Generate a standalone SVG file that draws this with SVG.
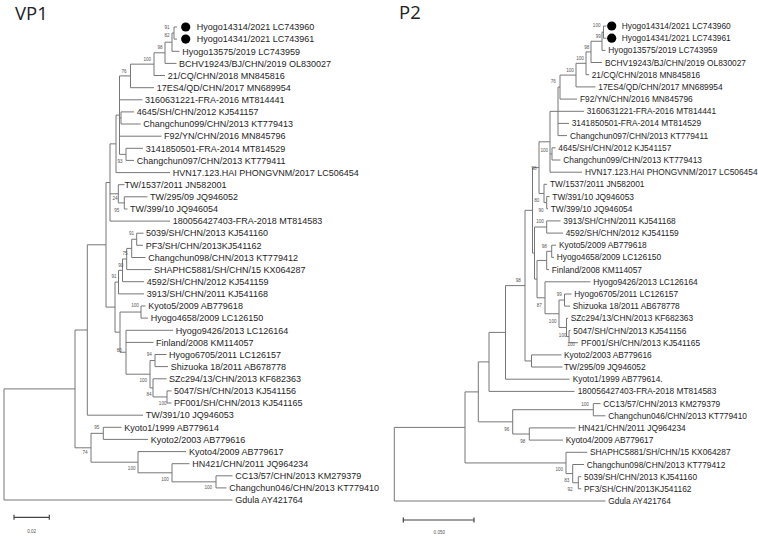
<svg xmlns="http://www.w3.org/2000/svg" width="758" height="541" viewBox="0 0 758 541">
<style>
.br{fill:none;stroke:#777;stroke-width:1}
.sb{fill:none;stroke:#444;stroke-width:1.2}
.lf{font-family:"Liberation Sans",Arial,sans-serif;font-size:9px;fill:#1e1e1e}
.lf2{font-family:"Liberation Sans",Arial,sans-serif;font-size:8.35px;fill:#1e1e1e}
.bs{font-family:"Liberation Sans",Arial,sans-serif;font-size:4.6px;fill:#555;text-anchor:middle}
.ttl{font-family:"Open Sans","Liberation Sans",sans-serif;font-size:18.5px;fill:#222}
.dot{fill:#000}
</style>
<rect width="758" height="541" fill="#fff"/>
<text class="ttl" x="15" y="20">VP1</text>
<text class="ttl" x="399" y="18.5">P2</text>

<g id="connectors">
<g id="vp1-branches" class="br">
<path d="M174,27V39.1M174,27H177M174,39.1H177"/>
<path d="M172,33.05V51.3M172,33.05H174M172,51.3H179.5"/>
<path d="M165,42.2V63.4M165,42.2H172M165,63.4H176.5"/>
<path d="M154,52.8V75.5M154,52.8H165M154,75.5H165"/>
<path d="M130.5,64.15V87.7M130.5,64.15H154M130.5,87.7H154"/>
<path d="M119.5,75.9V154.35M119.5,75.9H130.5M119.5,99.8H142.5M119.5,117.95H121M119.5,136.2H161.5M119.5,154.35H126"/>
<path d="M121,111.9V124M121,111.9H134M121,124H140.5"/>
<path d="M126,148.3V160.4M126,148.3H143M126,160.4H134"/>
<path d="M116,115.1V172.6M116,115.1H119.5M116,172.6H170"/>
<path d="M124.3,196.8V209M124.3,196.8H147.5M124.3,209H127.5"/>
<path d="M118.3,184.7V202.9M118.3,184.7H124.5M118.3,202.9H124.3"/>
<path d="M110,143.85V221.1M110,143.85H116M110,193.8H118.3M110,221.1H170"/>
<path d="M136.7,233.2V245.3M136.7,233.2H143.5M136.7,245.3H143"/>
<path d="M131.7,239.25V257.5M131.7,239.25H136.7M131.7,257.5H145.5"/>
<path d="M126.7,248.4V269.6M126.7,248.4H131.7M126.7,269.6H151.5"/>
<path d="M122.5,259V281.7M122.5,259H126.7M122.5,281.7H144"/>
<path d="M118.5,270.35V293.9M118.5,270.35H122.5M118.5,293.9H144"/>
<path d="M141,306V318.1M141,306H145.5M141,318.1H148"/>
<path d="M155,354.5V366.6M155,354.5H166.5M155,366.6H168"/>
<path d="M167,390.9V403M167,390.9H171.5M167,403H171.5"/>
<path d="M153,378.8V396.95M153,378.8H166.5M153,396.95H167"/>
<path d="M150,360.55V387.9M150,360.55H155M150,387.9H153"/>
<path d="M126,330.3V374.2M126,330.3H173M126,342.4H153.5M126,374.2H150"/>
<path d="M120,312.05V352.25M120,312.05H141M120,352.25H126"/>
<path d="M115,282.1V332.15M115,282.1H118.5M115,332.15H120"/>
<path d="M106,182.5V307.1M106,182.5H110M106,307.1H115"/>
<path d="M87.3,244.8V415.2M87.3,244.8H106M87.3,415.2H143"/>
<path d="M103.3,427.3V439.4M103.3,427.3H121.5M103.3,439.4H148"/>
<path d="M216,475.8V487.9M216,475.8H232.5M216,487.9H226.5"/>
<path d="M172,463.7V481.85M172,463.7H189.5M172,481.85H216"/>
<path d="M138,451.6V472.8M138,451.6H186M138,472.8H172"/>
<path d="M91,433.35V462.2M91,433.35H103.3M91,462.2H138"/>
<path d="M75,330V447.8M75,330H87.3M75,447.8H91"/>
<path d="M4,388.9V500M4,388.9H75M4,500H232.5"/>
</g>
<g id="p2-branches" class="br">
<path d="M603.5,26V38.2M603.5,26H606.5M603.5,38.2H606.5"/>
<path d="M602,32.1V50.4M602,32.1H603.5M602,50.4H605.5"/>
<path d="M591,41.25V62.5M591,41.25H602M591,62.5H602"/>
<path d="M586,51.9V74.7M586,51.9H591M586,74.7H589"/>
<path d="M576,63.3V86.9M576,63.3H586M576,86.9H595.5"/>
<path d="M560,75.1V99.1M560,75.1H576M560,99.1H577"/>
<path d="M558,87.1V135.6M558,87.1H560M558,111.3H584M558,123.4H569M558,135.6H567"/>
<path d="M552,147.8V160M552,147.8H555.5M552,160H560.5"/>
<path d="M550,111.35V172.2M550,111.35H558M550,153.9H552M550,172.2H582"/>
<path d="M546.7,196.5V208.7M546.7,196.5H549.5M546.7,208.7H548"/>
<path d="M544,184.3V202.6M544,184.3H547M544,202.6H546.7"/>
<path d="M539,141.8V193.45M539,141.8H550M539,193.45H544"/>
<path d="M546.7,220.9V233.1M546.7,220.9H560.5M546.7,233.1H563"/>
<path d="M551.7,245.2V257.4M551.7,245.2H556M551.7,257.4H554"/>
<path d="M546.7,251.3V269.6M546.7,251.3H551.7M546.7,269.6H549"/>
<path d="M564.5,294V306.1M564.5,294H571.5M564.5,306.1H570"/>
<path d="M569,330.5V342.7M569,330.5H570.5M569,342.7H578"/>
<path d="M566.5,318.3V336.6M566.5,318.3H568M566.5,336.6H569"/>
<path d="M559,300.05V327.45M559,300.05H564.5M559,327.45H566.5"/>
<path d="M545,281.8V313.75M545,281.8H590.5M545,313.75H559"/>
<path d="M537,260.45V297.8M537,260.45H546.7M537,297.8H545"/>
<path d="M534.5,227V279.1M534.5,227H546.7M534.5,279.1H537"/>
<path d="M532.5,167.6V253.05M532.5,167.6H539M532.5,253.05H534.5"/>
<path d="M531.5,354.9V367M531.5,354.9H561.5M531.5,367H562.5"/>
<path d="M525,210.3V360.95M525,210.3H532.5M525,360.95H531.5"/>
<path d="M505.5,285.6V379.2M505.5,285.6H525M505.5,379.2H569.5"/>
<path d="M489,332.4V391.4M489,332.4H505.5M489,391.4H574.5"/>
<path d="M593.3,403.6V415.8M593.3,403.6H600.5M593.3,415.8H605.5"/>
<path d="M529.3,427.9V440.1M529.3,427.9H575.5M529.3,440.1H563"/>
<path d="M512.7,409.7V434M512.7,409.7H593.3M512.7,434H529.3"/>
<path d="M478.3,361.9V421.85M478.3,361.9H489M478.3,421.85H512.7"/>
<path d="M578.3,476.7V488.8M578.3,476.7H581.3M578.3,488.8H581.3"/>
<path d="M572.7,464.5V482.75M572.7,464.5H584M572.7,482.75H578.3"/>
<path d="M566,452.3V473.6M566,452.3H587.3M566,473.6H572.7"/>
<path d="M465,391.9V462.95M465,391.9H478.3M465,462.95H566"/>
<path d="M394.3,427.4V501M394.3,427.4H465M394.3,501H605.5"/>
</g>
</g>

<g id="vp1-leaves" class="lf">
<g id="vp1-hyogo14314"><circle class="dot" cx="185.7" cy="27" r="4.6"/><text x="196.7" y="30.2">Hyogo14314/2021 LC743960</text></g>
<g id="vp1-hyogo14341"><circle class="dot" cx="185.7" cy="39.1" r="4.6"/><text x="196.7" y="42.3">Hyogo14341/2021 LC743961</text></g>
<g id="vp1-hyogo13575"><text x="182.3" y="54.5">Hyogo13575/2019 LC743959</text></g>
<g id="vp1-bchv"><text x="179" y="66.6">BCHV19243/BJ/CHN/2019 OL830027</text></g>
<g id="vp1-21cq"><text x="167.7" y="78.7">21/CQ/CHN/2018 MN845816</text></g>
<g id="vp1-17es4"><text x="156.7" y="90.9">17ES4/QD/CHN/2017 MN689954</text></g>
<g id="vp1-3160631221"><text x="145" y="103">3160631221-FRA-2016 MT814441</text></g>
<g id="vp1-4645"><text x="136.7" y="115.1">4645/SH/CHN/2012 KJ541157</text></g>
<g id="vp1-changchun099"><text x="143.3" y="127.2">Changchun099/CHN/2013 KT779413</text></g>
<g id="vp1-f92"><text x="164" y="139.4">F92/YN/CHN/2016 MN845796</text></g>
<g id="vp1-3141850501"><text x="145.7" y="151.5">3141850501-FRA-2014 MT814529</text></g>
<g id="vp1-changchun097"><text x="136.7" y="163.6">Changchun097/CHN/2013 KT779411</text></g>
<g id="vp1-hvn17"><text x="172.7" y="175.8">HVN17.123.HAI PHONGVNM/2017 LC506454</text></g>
<g id="vp1-tw1537"><text x="124.5" y="187.9">TW/1537/2011 JN582001</text></g>
<g id="vp1-tw295"><text x="150" y="200">TW/295/09 JQ946052</text></g>
<g id="vp1-tw399"><text x="130" y="212.2">TW/399/10 JQ946054</text></g>
<g id="vp1-180056"><text x="172.7" y="224.3">180056427403-FRA-2018 MT814583</text></g>
<g id="vp1-5039"><text x="146" y="236.4">5039/SH/CHN/2013 KJ541160</text></g>
<g id="vp1-pf3"><text x="145.7" y="248.5">PF3/SH/CHN/2013KJ541162</text></g>
<g id="vp1-changchun098"><text x="148.3" y="260.7">Changchun098/CHN/2013 KT779412</text></g>
<g id="vp1-shaphc5881"><text x="154" y="272.8">SHAPHC5881/SH/CHN/15 KX064287</text></g>
<g id="vp1-4592"><text x="146.7" y="284.9">4592/SH/CHN/2012 KJ541159</text></g>
<g id="vp1-3913"><text x="146.7" y="297.1">3913/SH/CHN/2011 KJ541168</text></g>
<g id="vp1-kyoto5"><text x="148.3" y="309.2">Kyoto5/2009 AB779618</text></g>
<g id="vp1-hyogo4658"><text x="150.7" y="321.3">Hyogo4658/2009 LC126150</text></g>
<g id="vp1-hyogo9426"><text x="175.7" y="333.5">Hyogo9426/2013 LC126164</text></g>
<g id="vp1-finland"><text x="156" y="345.6">Finland/2008 KM114057</text></g>
<g id="vp1-hyogo6705"><text x="169" y="357.7">Hyogo6705/2011 LC126157</text></g>
<g id="vp1-shizuoka"><text x="170.7" y="369.8">Shizuoka 18/2011 AB678778</text></g>
<g id="vp1-szc294"><text x="169" y="382">SZc294/13/CHN/2013 KF682363</text></g>
<g id="vp1-5047"><text x="174" y="394.1">5047/SH/CHN/2013 KJ541156</text></g>
<g id="vp1-pf001"><text x="174" y="406.2">PF001/SH/CHN/2013 KJ541165</text></g>
<g id="vp1-tw391"><text x="145.7" y="418.4">TW/391/10 JQ946053</text></g>
<g id="vp1-kyoto1"><text x="124.3" y="430.5">Kyoto1/1999 AB779614</text></g>
<g id="vp1-kyoto2"><text x="150.7" y="442.6">Kyoto2/2003 AB779616</text></g>
<g id="vp1-kyoto4"><text x="189" y="454.8">Kyoto4/2009 AB779617</text></g>
<g id="vp1-hn421"><text x="192.3" y="466.9">HN421/CHN/2011 JQ964234</text></g>
<g id="vp1-cc13"><text x="235.3" y="479">CC13/57/CHN/2013 KM279379</text></g>
<g id="vp1-changchun046"><text x="229.3" y="491.1">Changchun046/CHN/2013 KT779410</text></g>
<g id="vp1-gdula"><text x="235.3" y="503.2">Gdula AY421764</text></g>
</g>

<g id="p2-leaves" class="lf2">
<g id="p2-hyogo14314"><circle class="dot" cx="611.7" cy="26" r="4.6"/><text x="621.7" y="29">Hyogo14314/2021 LC743960</text></g>
<g id="p2-hyogo14341"><circle class="dot" cx="611.7" cy="38.2" r="4.6"/><text x="621.7" y="41.2">Hyogo14341/2021 LC743961</text></g>
<g id="p2-hyogo13575"><text x="608.3" y="53.4">Hyogo13575/2019 LC743959</text></g>
<g id="p2-bchv"><text x="605" y="65.5">BCHV19243/BJ/CHN/2019 OL830027</text></g>
<g id="p2-21cq"><text x="591.7" y="77.7">21/CQ/CHN/2018 MN845816</text></g>
<g id="p2-17es4"><text x="598.3" y="89.9">17ES4/QD/CHN/2017 MN689954</text></g>
<g id="p2-f92"><text x="580" y="102.1">F92/YN/CHN/2016 MN845796</text></g>
<g id="p2-3160631221"><text x="586.7" y="114.3">3160631221-FRA-2016 MT814441</text></g>
<g id="p2-3141850501"><text x="571.7" y="126.4">3141850501-FRA-2014 MT814529</text></g>
<g id="p2-changchun097"><text x="570" y="138.6">Changchun097/CHN/2013 KT779411</text></g>
<g id="p2-4645"><text x="558.3" y="150.8">4645/SH/CHN/2012 KJ541157</text></g>
<g id="p2-changchun099"><text x="563.3" y="163">Changchun099/CHN/2013 KT779413</text></g>
<g id="p2-hvn17"><text x="585" y="175.2">HVN17.123.HAI PHONGVNM/2017 LC506454</text></g>
<g id="p2-tw1537"><text x="550" y="187.3">TW/1537/2011 JN582001</text></g>
<g id="p2-tw391"><text x="552.3" y="199.5">TW/391/10 JQ946053</text></g>
<g id="p2-tw399"><text x="550.7" y="211.7">TW/399/10 JQ946054</text></g>
<g id="p2-3913"><text x="563.3" y="223.9">3913/SH/CHN/2011 KJ541168</text></g>
<g id="p2-4592"><text x="565.7" y="236.1">4592/SH/CHN/2012 KJ541159</text></g>
<g id="p2-kyoto5"><text x="559" y="248.2">Kyoto5/2009 AB779618</text></g>
<g id="p2-hyogo4658"><text x="556.7" y="260.4">Hyogo4658/2009 LC126150</text></g>
<g id="p2-finland"><text x="551.7" y="272.6">Finland/2008 KM114057</text></g>
<g id="p2-hyogo9426"><text x="593.3" y="284.8">Hyogo9426/2013 LC126164</text></g>
<g id="p2-hyogo6705"><text x="574.3" y="297">Hyogo6705/2011 LC126157</text></g>
<g id="p2-shizuoka"><text x="572.7" y="309.1">Shizuoka 18/2011 AB678778</text></g>
<g id="p2-szc294"><text x="570.7" y="321.3">SZc294/13/CHN/2013 KF682363</text></g>
<g id="p2-5047"><text x="573.3" y="333.5">5047/SH/CHN/2013 KJ541156</text></g>
<g id="p2-pf001"><text x="581" y="345.7">PF001/SH/CHN/2013 KJ541165</text></g>
<g id="p2-kyoto2"><text x="564" y="357.9">Kyoto2/2003 AB779616</text></g>
<g id="p2-tw295"><text x="564" y="370">TW/295/09 JQ946052</text></g>
<g id="p2-kyoto1"><text x="572.7" y="382.2">Kyoto1/1999 AB779614.</text></g>
<g id="p2-180056"><text x="577.7" y="394.4">180056427403-FRA-2018 MT814583</text></g>
<g id="p2-cc13"><text x="603.3" y="406.6">CC13/57/CHN/2013 KM279379</text></g>
<g id="p2-changchun046"><text x="608.3" y="418.8">Changchun046/CHN/2013 KT779410</text></g>
<g id="p2-hn421"><text x="578.3" y="430.9">HN421/CHN/2011 JQ964234</text></g>
<g id="p2-kyoto4"><text x="565.7" y="443.1">Kyoto4/2009 AB779617</text></g>
<g id="p2-shaphc5881"><text x="590" y="455.3">SHAPHC5881/SH/CHN/15 KX064287</text></g>
<g id="p2-changchun098"><text x="586.7" y="467.5">Changchun098/CHN/2013 KT779412</text></g>
<g id="p2-5039"><text x="584" y="479.7">5039/SH/CHN/2013 KJ541160</text></g>
<g id="p2-pf3"><text x="584" y="491.8">PF3/SH/CHN/2013KJ541162</text></g>
<g id="p2-gdula"><text x="608.3" y="504">Gdula AY421764</text></g>
</g>

<g id="vp1-support" class="bs">
<text x="167" y="28.6">91</text>
<text x="167" y="37.1">82</text>
<text x="160" y="49.3">98</text>
<text x="147.3" y="60.6">100</text>
<text x="124" y="72.6">76</text>
<text x="120" y="162.6">93</text>
<text x="115" y="199.6">24</text>
<text x="116.7" y="211.6">95</text>
<text x="131.5" y="235.1">91</text>
<text x="125" y="254.9">75</text>
<text x="120.7" y="266.6">90</text>
<text x="114" y="278.3">91</text>
<text x="135" y="307.3">100</text>
<text x="119.3" y="351.6">80</text>
<text x="149.3" y="355.9">94</text>
<text x="143.3" y="381.6">100</text>
<text x="149" y="395.9">84</text>
<text x="162.7" y="404.9">100</text>
<text x="96.7" y="429.3">95</text>
<text x="85" y="454.3">74</text>
<text x="131.7" y="469.6">100</text>
<text x="165" y="480.6">100</text>
<text x="208.3" y="489.3">100</text>
</g>

<g id="p2-support" class="bs">
<text x="596.7" y="26.6">100</text>
<text x="598.3" y="37.6">99</text>
<text x="586.7" y="49.3">98</text>
<text x="580" y="59.9">100</text>
<text x="570" y="72.3">100</text>
<text x="553.3" y="83.3">76</text>
<text x="544.3" y="151.6">100</text>
<text x="534" y="169.9">98</text>
<text x="536.7" y="201.6">80</text>
<text x="541" y="211.6">90</text>
<text x="540" y="222.6">100</text>
<text x="544.3" y="247.6">98</text>
<text x="518.3" y="281.6">98</text>
<text x="559.3" y="295.9">99</text>
<text x="539.3" y="306.6">87</text>
<text x="552.7" y="322.6">100</text>
<text x="562.7" y="336.6">100</text>
<text x="571" y="345.9">100</text>
<text x="585" y="405.9">100</text>
<text x="506.7" y="430.6">96</text>
<text x="522.7" y="443.3">98</text>
<text x="559.3" y="470.9">100</text>
<text x="566.7" y="481.6">83</text>
<text x="570" y="490.6">92</text>
</g>

<g id="vp1-scale">
<path class="sb" d="M14,517.3H49.3M14,514.8V519.8M49.3,514.8V519.8"/>
<text class="bs" x="31.7" y="532.6">0.02</text>
</g>
<g id="p2-scale">
<path class="sb" d="M403.3,520H474M403.3,517.5V522.5M474,517.5V522.5"/>
<text class="bs" x="439.3" y="534.3">0.050</text>
</g>
</svg>
